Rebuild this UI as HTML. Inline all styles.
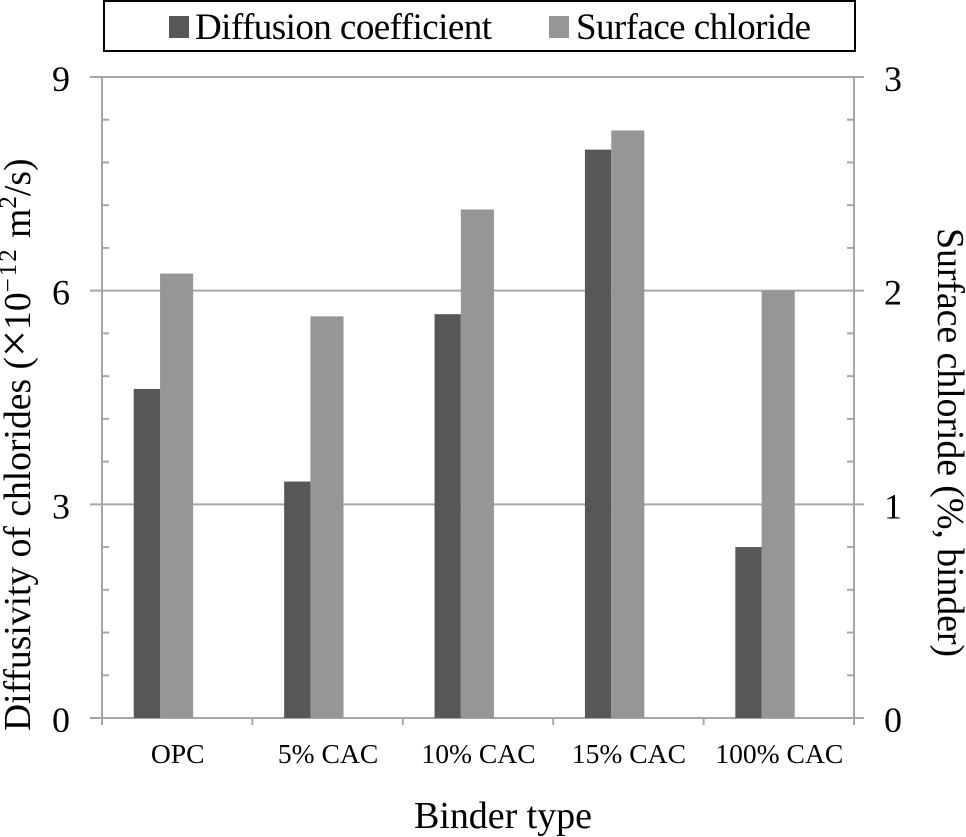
<!DOCTYPE html>
<html lang="en">
<head>
<meta charset="utf-8">
<title>Diffusivity of chlorides and surface chloride by binder type</title>
<style>
html,body{margin:0;padding:0;background:#fff;}
svg{display:block;font-family:"Liberation Serif",serif;fill:#000;}
</style>
</head>
<body>
<svg id="chart" xmlns="http://www.w3.org/2000/svg" width="966" height="837" viewBox="0 0 966 837">
  <rect x="0" y="0" width="966" height="837" fill="#fff"/>
  <g id="grid"></g>
  <g id="bars"></g>
  <g id="axes"></g>
  <g id="labels"></g>
  <g>
    <rect x="104" y="1" width="751" height="50" fill="#fff" stroke="#000" stroke-width="2"/>
    <rect x="169" y="16" width="20" height="22" fill="#575757"/>
    <text x="195" y="39" font-size="37" textLength="297" lengthAdjust="spacing">Diffusion coefficient</text>
    <rect x="549" y="16" width="20" height="22" fill="#969696"/>
    <text x="576" y="39" font-size="37" textLength="235" lengthAdjust="spacing">Surface chloride</text>
  </g>
  <text x="414" y="828" font-size="38" textLength="178" lengthAdjust="spacing">Binder type</text>
  <text transform="translate(30,731) rotate(-90)" font-size="37.6">Diffusivity of chlorides (<tspan font-size="48">×</tspan>10<tspan dy="-14" font-size="25" letter-spacing="2">−12</tspan><tspan dy="14"> m</tspan><tspan dy="-14" font-size="25">2</tspan><tspan dy="14">/s)</tspan></text>
  <text transform="translate(938,228) rotate(90)" font-size="38" textLength="429" lengthAdjust="spacing">Surface chloride (%, binder)</text>
</svg>
<script>
const categories = ["OPC", "5% CAC", "10% CAC", "15% CAC", "100% CAC"];
const diffusionCoefficient = [4.62, 3.32, 5.67, 7.98, 2.4];
const surfaceChloride = [2.08, 1.88, 2.38, 2.75, 2.0];
const leftTickLabels = [0, 3, 6, 9];
const rightTickLabels = [0, 1, 2, 3];
const leftMax = 9;
const rightMax = 3;
const minorPerMajor = 5;

const NS = "http://www.w3.org/2000/svg";
const plot = { left: 102, right: 854, top: 77, bottom: 718 };
const band = (plot.right - plot.left) / categories.length;
const yLeft = v => plot.bottom - (v / leftMax) * (plot.bottom - plot.top);
const yRight = v => plot.bottom - (v / rightMax) * (plot.bottom - plot.top);
const xBand = i => plot.left + band * i;
const AXIS = "#a6a6a6";

function make(tag, attrs, parent, content) {
  const el = document.createElementNS(NS, tag);
  for (const k in attrs) el.setAttribute(k, attrs[k]);
  if (content !== undefined) el.textContent = content;
  parent.appendChild(el);
  return el;
}
const gridG = document.getElementById("grid");
const barsG = document.getElementById("bars");
const axesG = document.getElementById("axes");
const labelsG = document.getElementById("labels");

leftTickLabels.forEach(v => {
  const y = yLeft(v);
  const line = make("line", { x1: 90, x2: 864, y1: y, y2: y, stroke: AXIS, "stroke-width": 2 }, gridG);
  
  
});

categories.forEach((c, i) => {
  const split = xBand(i) + band * 0.386;
  const d = yLeft(diffusionCoefficient[i]);
  const barD = make("rect", { x: split - band * 0.175, y: d, width: band * 0.175, height: plot.bottom - d, fill: "#575757" }, barsG);
  
  
  const s = yRight(surfaceChloride[i]);
  const barS = make("rect", { x: split, y: s, width: band * 0.22, height: plot.bottom - s, fill: "#969696" }, barsG);
  
  
  const label = make("text", { x: xBand(i) + band * 0.5 + 0.5, y: 763, "font-size": 27.6, "text-anchor": "middle" }, labelsG, c);
  
  
  const tick = make("line", { x1: xBand(i), x2: xBand(i), y1: plot.bottom, y2: plot.bottom + 7, stroke: AXIS, "stroke-width": 2 }, axesG);
  
  
});

const lastTick = make("line", { x1: plot.right, x2: plot.right, y1: plot.bottom, y2: plot.bottom + 7, stroke: AXIS, "stroke-width": 2 }, axesG);



const leftAxis = make("line", { x1: plot.left, x2: plot.left, y1: plot.top, y2: plot.bottom, stroke: AXIS, "stroke-width": 2 }, axesG);


const rightAxis = make("line", { x1: plot.right, x2: plot.right, y1: plot.top, y2: plot.bottom, stroke: AXIS, "stroke-width": 2 }, axesG);



const minorStep = (leftTickLabels[1] - leftTickLabels[0]) / minorPerMajor;
for (let n = 1; n * minorStep < leftMax; n++) {
  if (n % minorPerMajor === 0) continue;
  const y = yLeft(n * minorStep);
  const minorL = make("line", { x1: plot.left, x2: plot.left + 7, y1: y, y2: y, stroke: AXIS, "stroke-width": 2 }, axesG);
  
  
  const minorR = make("line", { x1: plot.right - 7, x2: plot.right, y1: y, y2: y, stroke: AXIS, "stroke-width": 2 }, axesG);
  
  
}

leftTickLabels.forEach(v => {
  const t = make("text", { x: 70, y: yLeft(v) + 14, "font-size": 36, "text-anchor": "end" }, labelsG, v);
  
  
});
rightTickLabels.forEach(v => {
  const t = make("text", { x: 884, y: yRight(v) + 14, "font-size": 36 }, labelsG, v);
  
  
});
</script>
</body>
</html>
